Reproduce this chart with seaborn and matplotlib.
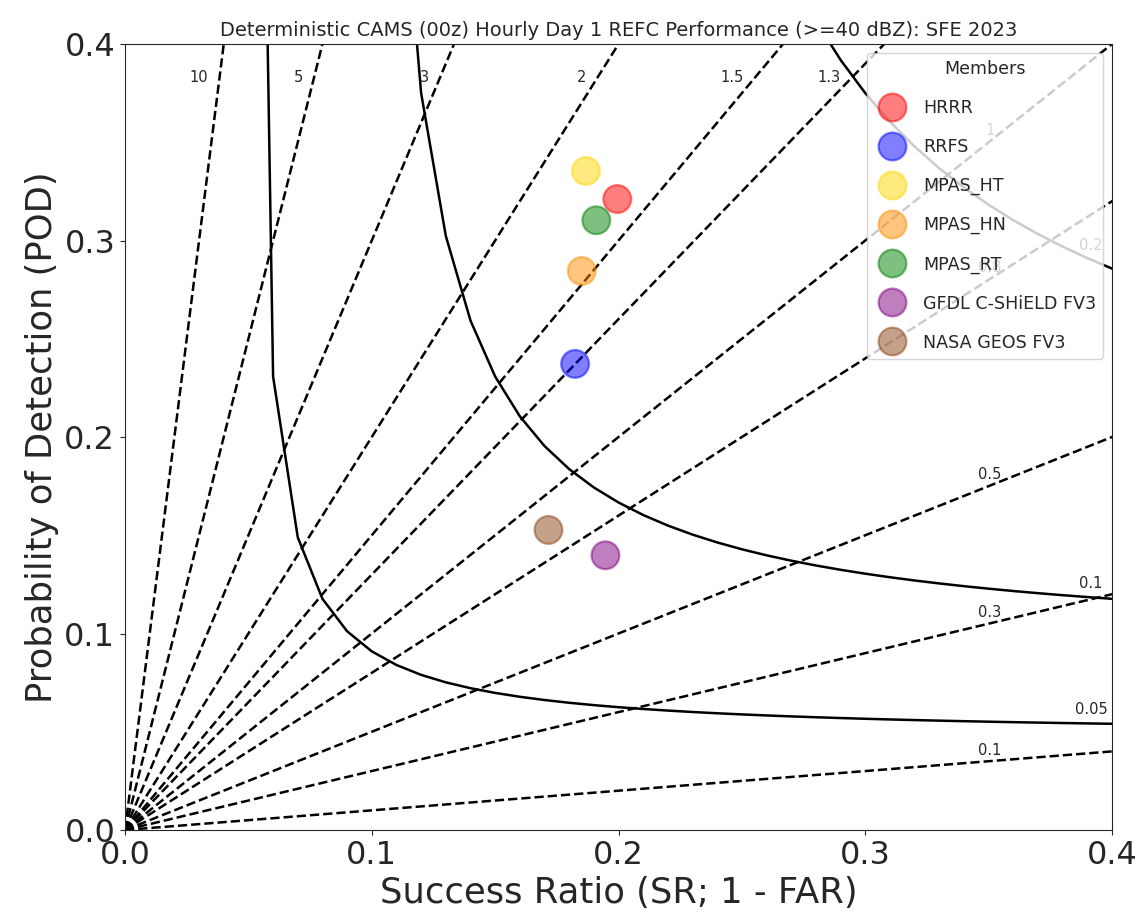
# Performance diagram for deterministic CAMS members (SFE 2023)
import numpy as np
import pandas as pd
import seaborn as sns
import matplotlib
matplotlib.use("Agg")
import matplotlib.pyplot as plt

# Member scores
members = ["HRRR", "RRFS", "MPAS_HT", "MPAS_HN", "MPAS_RT",
           "GFDL C-SHiELD FV3", "NASA GEOS FV3"]
success_ratio = [0.1995, 0.1824, 0.1868, 0.1851, 0.1910, 0.1947, 0.1716]
pod = [0.3211, 0.2372, 0.3354, 0.2845, 0.3103, 0.1398, 0.1527]
colors = ["red", "blue", "gold", "darkorange", "green", "purple", "saddlebrown"]

# Reference lines
bias_levels = [10, 5, 3, 2, 1.5, 1.3, 1, 0.8, 0.5, 0.3, 0.1]
csi_levels = [0.05, 0.1, 0.2, 0.3, 0.4, 0.5, 0.6, 0.7, 0.8, 0.9]
csi_labelled = [0.05, 0.1, 0.2]

df = pd.DataFrame({"member": members, "sr": success_ratio, "pod": pod})

sns.set_style("ticks")
plt.rcParams["font.family"] = ["DejaVu Sans"]

fig, ax = plt.subplots(figsize=(11.43, 9.15), dpi=100)
fig.subplots_adjust(left=0.1094, right=0.9729, bottom=0.0929, top=0.9519)

# CSI curves, sampled every 0.01 in SR
sr_line = np.arange(0.01, 1.001, 0.01)
for c in csi_levels:
    with np.errstate(divide="ignore"):
        pod_line = 1.0 / (1.0 / c + 1.0 - 1.0 / sr_line)
    ok = (pod_line > 0) & (pod_line <= 1.0 + 1e-9)
    ax.plot(sr_line[ok], pod_line[ok], color="k", linewidth=1.8)

# frequency bias lines
x = np.array([0.0, 1.0])
for b in bias_levels:
    ax.plot(x, b * x, color="k", linestyle="--", linewidth=1.8)
    if b > 1:
        ax.annotate(str(b), xy=(0.383 / b, 0.383), xytext=(-8, 0),
                    textcoords="offset points", ha="right", va="center",
                    fontsize=10.5)
    else:
        ax.annotate(str(b), xy=(0.3505, 0.3505 * b), xytext=(0, 8),
                    textcoords="offset points", ha="center", va="center",
                    fontsize=10.5)

for c in csi_labelled:
    xs = 0.3915
    ys = 1.0 / (1.0 / c + 1.0 - 1.0 / xs)
    ax.annotate(str(c), xy=(xs, ys), xytext=(0, 10),
                textcoords="offset points", ha="center", va="center",
                fontsize=10.5)

sns.scatterplot(data=df, x="sr", y="pod", hue="member", palette=colors,
                s=400, alpha=0.5, edgecolor="face", zorder=4, ax=ax)

handles, labels = ax.get_legend_handles_labels()
ax.legend(handles, labels, title="Members", loc="upper right",
          fontsize=12.6, title_fontsize=12.6, labelspacing=1.2)

ax.set_xlim(0, 0.4)
ax.set_ylim(0, 0.4)
ax.set_xticks([0.0, 0.1, 0.2, 0.3, 0.4])
ax.set_yticks([0.0, 0.1, 0.2, 0.3, 0.4])
ax.tick_params(labelsize=23)
ax.set_xlabel("Success Ratio (SR; 1 - FAR)", fontsize=25.5)
ax.set_ylabel("Probability of Detection (POD)", fontsize=25.5)
ax.set_title("Deterministic CAMS (00z) Hourly Day 1 REFC Performance "
             "(>=40 dBZ): SFE 2023", fontsize=14)

plt.savefig("out.png", dpi=100)
